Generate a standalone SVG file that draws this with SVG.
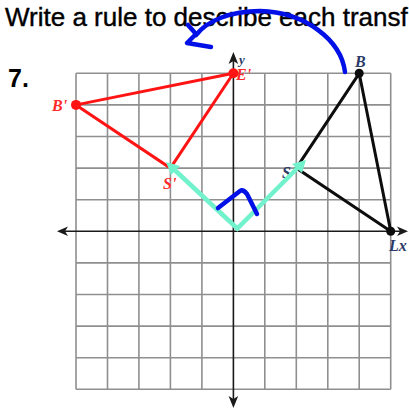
<svg xmlns="http://www.w3.org/2000/svg" width="409" height="410" viewBox="0 0 409 410">
<style>
.grid line{stroke:#8f8f8f;stroke-width:1.6}
.axis{stroke:#1a1a1a;stroke-width:1.6;fill:none}
.ah{fill:#1a1a1a}
.red{stroke:#ff1414;stroke-width:3;fill:none}
.blk{stroke:#0d0d0d;stroke-width:3;fill:none}
.cyan{stroke:#72f2cc;stroke-width:4.5;fill:none;stroke-linejoin:miter}
.ink{stroke:#0010e6;stroke-width:4.5;fill:none;stroke-linecap:round;stroke-linejoin:round}
.lbl{font-family:"Liberation Serif",serif;font-style:italic;font-weight:bold;font-size:16px}
.title{font-family:"Liberation Sans",Arial,sans-serif;font-size:26px;fill:#000;stroke:#000;stroke-width:0.4}
</style>
<rect width="409" height="410" fill="#fff"/>
<text class="title" x="5" y="26">Write a rule to describe each transf</text>
<text x="8" y="87" style="font-family:'Liberation Sans',Arial,sans-serif;font-weight:bold;font-size:25px">7.</text>
<g class="grid">
<line x1="76" y1="73.3" x2="76" y2="389.3"/>
<line x1="107.5" y1="73.3" x2="107.5" y2="389.3"/>
<line x1="138.9" y1="73.3" x2="138.9" y2="389.3"/>
<line x1="170.4" y1="73.3" x2="170.4" y2="389.3"/>
<line x1="201.9" y1="73.3" x2="201.9" y2="389.3"/>
<line x1="264.8" y1="73.3" x2="264.8" y2="389.3"/>
<line x1="296.3" y1="73.3" x2="296.3" y2="389.3"/>
<line x1="327.8" y1="73.3" x2="327.8" y2="389.3"/>
<line x1="359.2" y1="73.3" x2="359.2" y2="389.3"/>
<line x1="390.7" y1="73.3" x2="390.7" y2="389.3"/>
<line x1="76" y1="73.3" x2="390.7" y2="73.3"/>
<line x1="76" y1="104.9" x2="390.7" y2="104.9"/>
<line x1="76" y1="136.5" x2="390.7" y2="136.5"/>
<line x1="76" y1="168.1" x2="390.7" y2="168.1"/>
<line x1="76" y1="199.7" x2="390.7" y2="199.7"/>
<line x1="76" y1="262.9" x2="390.7" y2="262.9"/>
<line x1="76" y1="294.5" x2="390.7" y2="294.5"/>
<line x1="76" y1="326.1" x2="390.7" y2="326.1"/>
<line x1="76" y1="357.7" x2="390.7" y2="357.7"/>
<line x1="76" y1="389.3" x2="390.7" y2="389.3"/>
</g>
<g id="axes">
<line class="axis" x1="62" y1="231.3" x2="403" y2="231.3"/>
<line class="axis" x1="233.4" y1="58" x2="233.4" y2="402"/>
<path class="ah" d="M57,231.3 L68,226.5 L65,231.3 L68,236 Z"/>
<path class="ah" d="M408,231.3 L397,226.5 L400,231.3 L397,236 Z"/>
<path class="ah" d="M233.4,52 L228.6,64 L233.4,61 L238.2,64 Z"/>
<path class="ah" d="M233.4,408 L228.6,396 L233.4,399 L238.2,396 Z"/>
<text x="239" y="64" style="font-family:'Liberation Serif',serif;font-style:italic;font-weight:bold;font-size:13px;fill:#2b3a67">y</text>
<text class="lbl" x="389" y="251" style="fill:#2b3a67">Lx</text>
</g>
<g id="image-triangle">
<path class="red" d="M233.4,73.3 L76,104.9 L170.4,168.1 Z"/>
<circle cx="233.4" cy="73.3" r="5" fill="#ff1414"/>
<circle cx="76" cy="104.9" r="5" fill="#ff1414"/>
<text class="lbl" x="52" y="111" style="fill:#ff2a2a">B'</text>
<text class="lbl" x="236" y="80" style="fill:#ff2a2a">E'</text>
<text class="lbl" x="163" y="189" style="fill:#ff2a2a">S'</text>
</g>
<g id="preimage-triangle">
<path class="blk" d="M359.2,73.3 L296.3,168.1 L390.7,231.3 Z"/>
<circle cx="359.2" cy="73.3" r="4.5" fill="#0d0d0d"/>
<circle cx="390.7" cy="231.3" r="4.5" fill="#0d0d0d"/>
<text class="lbl" x="355" y="67" style="fill:#2b3a67">B</text>
<text class="lbl" x="282" y="178" style="fill:#2b3a67">S</text>
</g>
<g id="connectors">
<path class="cyan" d="M172,167.5 L237.3,228.5 L300,165.5"/>
<path d="M166,162 L180,166 L171,175 Z" fill="#72f2cc"/>
<path d="M306,160 L292,164 L302,173 Z" fill="#72f2cc"/>
<path class="ink" d="M218,208 L240,191 Q243,189 247,194 L257,214"/>
<path class="ink" d="M345,72 C341,40 305,12 260,11 C230,11 207,21 196,35"/>
<path class="ink" d="M188,25 L196,34 L187,43 L211,47"/>
</g>
</svg>
